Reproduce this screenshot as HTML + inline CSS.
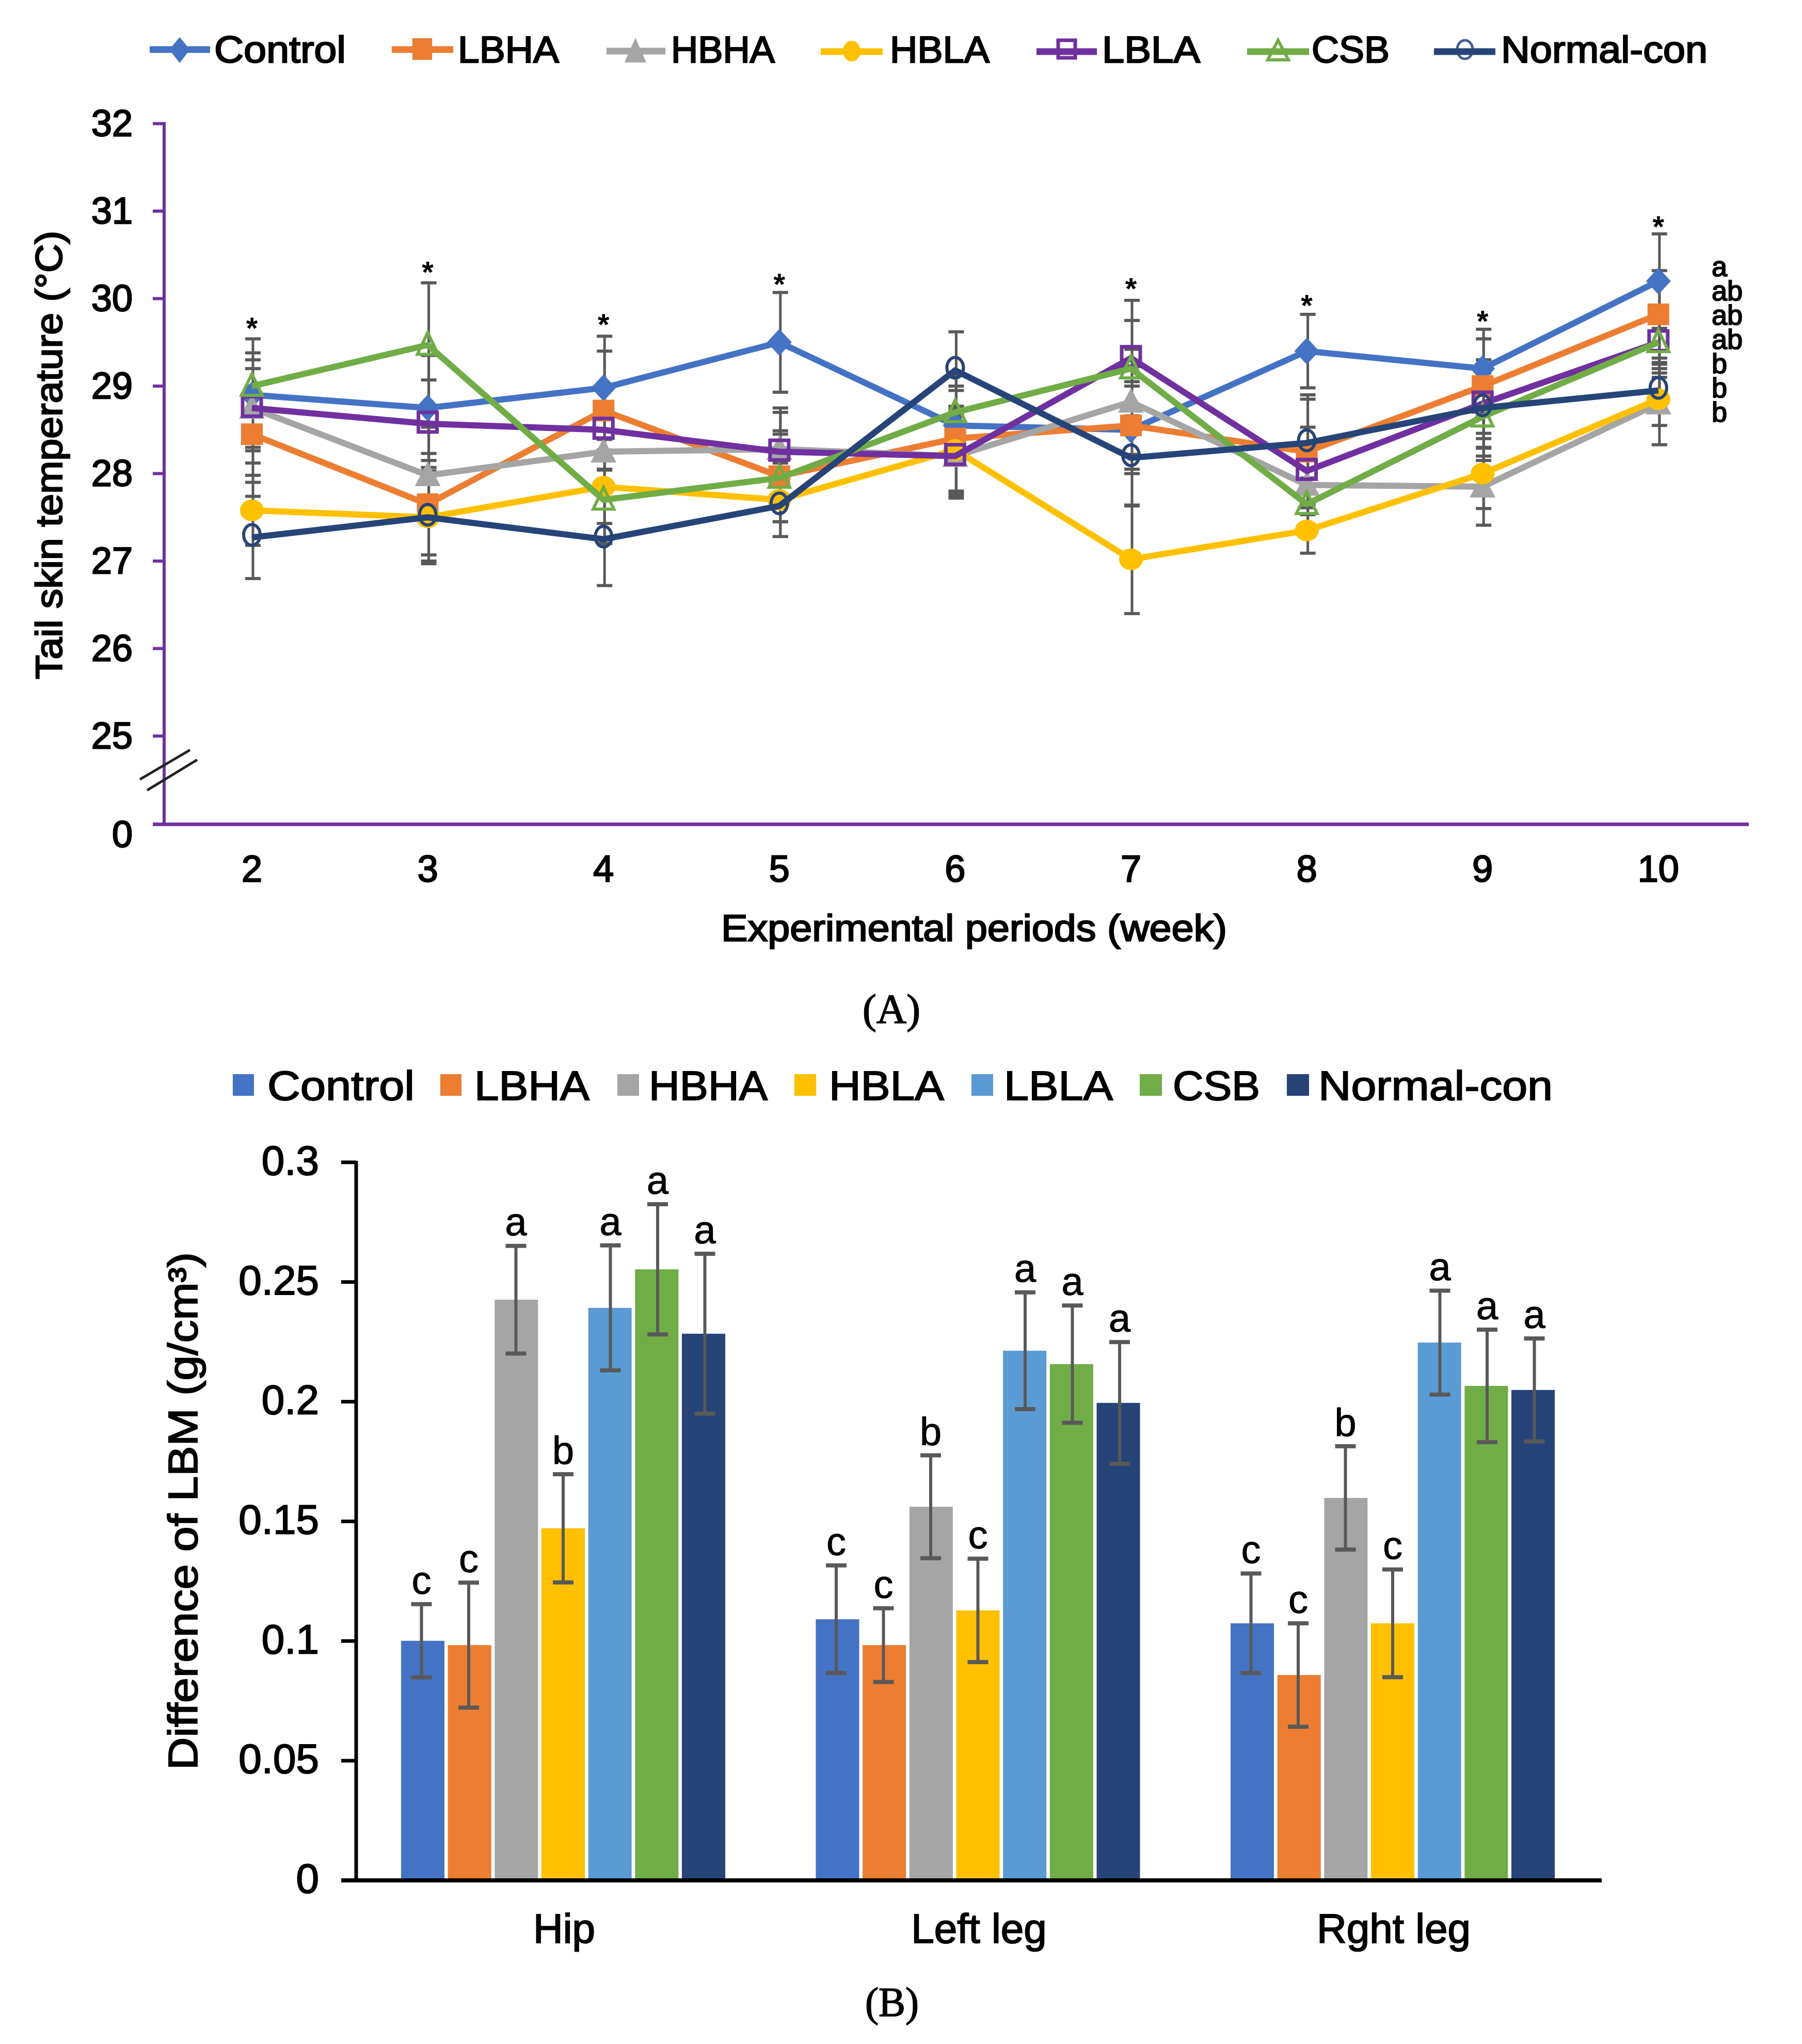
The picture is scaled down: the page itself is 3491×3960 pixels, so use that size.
<!DOCTYPE html>
<html lang="en">
<head>
<meta charset="utf-8">
<title>Tail skin temperature and difference of LBM</title>
<style>
html,body{margin:0;padding:0;background:#fff}
svg{display:block}
text{font-family:"Liberation Sans",Arial,sans-serif;fill:#000}
.a{font-size:72px;stroke:#000;stroke-width:2.4px}
.b{font-size:80px;stroke:#000;stroke-width:2px}
.cap{font-family:"Liberation Serif",serif;font-size:80px;stroke:#000;stroke-width:1.6px}
</style>
</head>
<body>
<svg id="figure" xmlns="http://www.w3.org/2000/svg" width="3491" height="3960" viewBox="0 0 3491 3960">
<rect x="0" y="0" width="3491" height="3960" fill="#fff"/>

<g id="chartA"></g>
<g id="chartB"></g>

<g>
  <g>
    <path d="M290 96H407" stroke="#4472C4" stroke-width="13"/><path d="M348 72L368 96L348 122L328 96Z" fill="#4472C4"/>
    <text class="a" x="415" y="121" textLength="255" lengthAdjust="spacingAndGlyphs" font-size="76">Control</text>
  </g>
  <g>
    <path d="M759 96H878" stroke="#ED7D31" stroke-width="13"/><rect x="799" y="74" width="38" height="42" fill="#ED7D31"/>
    <text class="a" x="887" y="121" textLength="196" lengthAdjust="spacingAndGlyphs">LBHA</text>
  </g>
  <g>
    <path d="M1175 99H1289" stroke="#A5A5A5" stroke-width="13"/><path d="M1231 73L1252 121H1210Z" fill="#A5A5A5"/>
    <text class="a" x="1300" y="121" textLength="201" lengthAdjust="spacingAndGlyphs">HBHA</text>
  </g>
  <g>
    <path d="M1590 100H1710" stroke="#FFC000" stroke-width="13"/><ellipse cx="1650" cy="99" rx="17" ry="20" fill="#FFC000"/>
    <text class="a" x="1724" y="121" textLength="193" lengthAdjust="spacingAndGlyphs">HBLA</text>
  </g>
  <g>
    <path d="M2008 100H2125" stroke="#7030A0" stroke-width="13"/><rect x="2050" y="78" width="33" height="34" fill="#fff" stroke="#7030A0" stroke-width="7"/>
    <path d="M2008 100H2125" stroke="#7030A0" stroke-width="13"/>
    <text class="a" x="2135" y="121" textLength="190" lengthAdjust="spacingAndGlyphs">LBLA</text>
  </g>
  <g>
    <path d="M2476 78L2496 116H2456Z" fill="#fff" stroke="#70AD47" stroke-width="6"/>
    <path d="M2416 100H2536" stroke="#70AD47" stroke-width="13"/>
    <text class="a" x="2541" y="121" textLength="151" lengthAdjust="spacingAndGlyphs">CSB</text>
  </g>
  <g>
    <ellipse cx="2838" cy="96" rx="15" ry="18" fill="#fff" stroke="#44608f" stroke-width="5"/>
    <path d="M2778 100H2897" stroke="#264478" stroke-width="13"/>
    <text class="a" x="2908" y="121" textLength="400" lengthAdjust="spacingAndGlyphs">Normal-con</text>
  </g>
</g>

<text class="a" transform="translate(120,1316) rotate(-90)" x="0" y="0" textLength="869" lengthAdjust="spacingAndGlyphs" font-size="68">Tail skin temperature (°C)</text>
<text class="a" x="1397" y="1823" textLength="980" lengthAdjust="spacingAndGlyphs">Experimental periods (week)</text>

<g stroke="#222" stroke-width="5">
  <line x1="271" y1="1510" x2="368" y2="1453"/>
  <line x1="285" y1="1531" x2="382" y2="1472"/>
</g>

<text class="cap" x="1671" y="1982" textLength="112" lengthAdjust="spacingAndGlyphs">(A)</text>

<g>
  <g><rect x="451" y="2081" width="41" height="42" fill="#4472C4"/><text class="b" x="518" y="2131" textLength="285" lengthAdjust="spacingAndGlyphs">Control</text></g>
  <g><rect x="853" y="2081" width="41" height="42" fill="#ED7D31"/><text class="b" x="919" y="2131" textLength="223" lengthAdjust="spacingAndGlyphs">LBHA</text></g>
  <g><rect x="1196" y="2081" width="42" height="42" fill="#A5A5A5"/><text class="b" x="1257" y="2131" textLength="230" lengthAdjust="spacingAndGlyphs">HBHA</text></g>
  <g><rect x="1539" y="2081" width="42" height="42" fill="#FFC000"/><text class="b" x="1606" y="2131" textLength="223" lengthAdjust="spacingAndGlyphs">HBLA</text></g>
  <g><rect x="1882" y="2081" width="42" height="42" fill="#5B9BD5"/><text class="b" x="1945" y="2131" textLength="211" lengthAdjust="spacingAndGlyphs">LBLA</text></g>
  <g><rect x="2208" y="2081" width="43" height="42" fill="#70AD47"/><text class="b" x="2272" y="2131" textLength="169" lengthAdjust="spacingAndGlyphs">CSB</text></g>
  <g><rect x="2493" y="2081" width="43" height="42" fill="#264478"/><text class="b" x="2554" y="2131" textLength="454" lengthAdjust="spacingAndGlyphs">Normal-con</text></g>
</g>

<text class="b" transform="translate(382,3429) rotate(-90)" x="0" y="0" textLength="1003" lengthAdjust="spacingAndGlyphs" font-size="76">Difference of LBM (g/cm³)</text>
<text class="cap" x="1676" y="3906" textLength="104" lengthAdjust="spacingAndGlyphs">(B)</text>

<script>
/* ---------- Chart A data ---------- */
var weeks = [2, 3, 4, 5, 6, 7, 8, 9, 10];
var tempYTicks = [0, 25, 26, 27, 28, 29, 30, 31, 32];

var tempControl = [28.9, 28.75, 28.98, 29.5, 28.55, 28.5, 29.4, 29.2, 30.2];
var tempLBHA    = [28.45, 27.65, 28.72, 27.97, 28.4, 28.55, 28.25, 29.0, 29.82];
var tempHBHA    = [28.75, 27.98, 28.25, 28.28, 28.2, 28.82, 27.87, 27.85, 28.8];
var tempHBLA    = [27.58, 27.5, 27.85, 27.7, 28.27, 27.02, 27.35, 28.0, 28.85];
var tempLBLA    = [28.75, 28.57, 28.5, 28.25, 28.2, 29.32, 28.03, 28.8, 29.5];
var tempCSB     = [29.0, 29.47, 27.7, 27.95, 28.7, 29.2, 27.65, 28.65, 29.5];
var tempNormal  = [27.27, 27.5, 27.25, 27.63, 29.18, 28.18, 28.35, 28.75, 28.95];

var errControl = [0.64, 0.6, 0.59, 0.57, 0.4, 0.5, 0.42, 0.45, 0.54];
var errLBHA    = [0.55, 0.58, 0.68, 0.52, 0.6, 0.5, 0.6, 0.54, 0.5];
var errHBHA    = [0.63, 0.55, 0.45, 0.42, 0.45, 0.6, 0.45, 0.44, 0.47];
var errHBLA    = [0.4, 0.5, 0.42, 0.42, 0.5, 0.62, 0.26, 0.4, 0.3];
var errLBLA    = [0.45, 0.5, 0.45, 0.5, 0.48, 0.66, 0.5, 0.5, 0.25];
var errCSB     = [0.3, 0.71, 0.5, 0.5, 0.42, 0.55, 0.3, 0.5, 0.4];
var errNormal  = [0.47, 0.53, 0.53, 0.35, 0.44, 0.55, 0.55, 0.55, 0.25];

/* value at which the significance star is printed, per week (none at week 6) */
var starLevels = [29.62, 30.26, 29.66, 30.12, null, 30.07, 29.88, 29.7, 30.78];
var endLetters = ['a', 'ab', 'ab', 'ab', 'b', 'b', 'b'];

/* ---------- Chart B data ---------- */
var regions = ['Hip', 'Left leg', 'Rght leg'];
var lbmYTicks = ['0', '0.05', '0.1', '0.15', '0.2', '0.25', '0.3'];

var lbmControl = [0.1001, 0.1091, 0.1074];
var lbmLBHA    = [0.0983, 0.0983, 0.0858];
var lbmHBHA    = [0.2426, 0.1561, 0.1598];
var lbmHBLA    = [0.1471, 0.1128, 0.1074];
var lbmLBLA    = [0.2392, 0.2213, 0.2247];
var lbmCSB     = [0.2553, 0.2157, 0.2066];
var lbmNormal  = [0.2284, 0.1995, 0.2049];

var lbmErrControl = [0.0153, 0.0225, 0.0208];
var lbmErrLBHA    = [0.0261, 0.0154, 0.0216];
var lbmErrHBHA    = [0.0225, 0.0215, 0.0216];
var lbmErrHBLA    = [0.0226, 0.0216, 0.0225];
var lbmErrLBLA    = [0.0261, 0.0244, 0.0217];
var lbmErrCSB     = [0.0272, 0.0245, 0.0235];
var lbmErrNormal  = [0.0334, 0.0254, 0.0215];

var lettersControl = ['c', 'c', 'c'];
var lettersLBHA    = ['c', 'c', 'c'];
var lettersHBHA    = ['a', 'b', 'b'];
var lettersHBLA    = ['b', 'c', 'c'];
var lettersLBLA    = ['a', 'a', 'a'];
var lettersCSB     = ['a', 'a', 'a'];
var lettersNormal  = ['a', 'a', 'a'];

var NS = 'http://www.w3.org/2000/svg';
function make(parent, tag, name, attrs, txt) {
  var el = document.createElementNS(NS, tag);
  
  
  for (var k in attrs) { el.setAttribute(k, attrs[k]); }
  if (txt !== undefined) { el.textContent = txt; }
  parent.appendChild(el);
  return el;
}

/* ---------- Chart A ---------- */
(function () {
  var root = document.getElementById('chartA');
  var purple = '#7030A0';
  function xA(w) { return 488 + (w - 2) * 340.6; }
  function yA(v) { return v === 0 ? 1597 : 1426 - (v - 25) * 169.5; }

  tempYTicks.forEach(function (t) {
    make(root, 'line', 'y-tick-' + t, { x1: 296, x2: 318, y1: yA(t), y2: yA(t), stroke: purple, 'stroke-width': 6 });
    make(root, 'text', 'y-tick-label-' + t, { 'class': 'a', x: 257, y: t === 0 ? 1641 : yA(t) + 24, 'text-anchor': 'end' }, String(t));
  });
  make(root, 'line', 'y-axis', { x1: 318, x2: 318, y1: yA(32) - 3, y2: yA(0) + 3, stroke: purple, 'stroke-width': 6 });
  make(root, 'line', 'x-axis', { x1: 296, x2: 3388, y1: yA(0), y2: yA(0), stroke: purple, 'stroke-width': 7 });

  weeks.forEach(function (w) {
    make(root, 'text', 'x-tick-label-week-' + w, { 'class': 'a', x: xA(w), y: 1708, 'text-anchor': 'middle' }, String(w));
  });

  var series = [
    { key: 'control', vals: tempControl, errs: errControl, color: '#4472C4', mark: 'diamond' },
    { key: 'lbha', vals: tempLBHA, errs: errLBHA, color: '#ED7D31', mark: 'square' },
    { key: 'hbha', vals: tempHBHA, errs: errHBHA, color: '#A5A5A5', mark: 'triangle' },
    { key: 'hbla', vals: tempHBLA, errs: errHBLA, color: '#FFC000', mark: 'circle' },
    { key: 'lbla', vals: tempLBLA, errs: errLBLA, color: '#7030A0', mark: 'hollow-square' },
    { key: 'csb', vals: tempCSB, errs: errCSB, color: '#70AD47', mark: 'hollow-triangle' },
    { key: 'normal-con', vals: tempNormal, errs: errNormal, color: '#264478', mark: 'hollow-circle' }
  ];

  series.forEach(function (s) {
    s.vals.forEach(function (v, i) {
      var x = xA(weeks[i]) + 2, hi = yA(v + s.errs[i]), lo = yA(v - s.errs[i]);
      var g = make(root, 'g', 'error-bar-' + s.key + '-week-' + weeks[i], { stroke: '#595959' });
      make(g, 'line', 'error-stem', { x1: x, x2: x, y1: hi, y2: lo, 'stroke-width': 5 });
      make(g, 'line', 'error-cap-top', { x1: x - 15, x2: x + 15, y1: hi, y2: hi, 'stroke-width': 6 });
      make(g, 'line', 'error-cap-bottom', { x1: x - 15, x2: x + 15, y1: lo, y2: lo, 'stroke-width': 6 });
    });
  });

  series.forEach(function (s) {
    var pts = s.vals.map(function (v, i) { return xA(weeks[i]) + ',' + yA(v); }).join(' ');
    make(root, 'polyline', 'line-' + s.key, { points: pts, fill: 'none', stroke: s.color, 'stroke-width': 12, 'stroke-linejoin': 'round' });
    s.vals.forEach(function (v, i) {
      var x = xA(weeks[i]), y = yA(v), nm = 'point-' + s.key + '-week-' + weeks[i];
      if (s.mark === 'diamond') {
        make(root, 'path', nm, { d: 'M' + x + ' ' + (y - 26) + 'L' + (x + 24) + ' ' + y + 'L' + x + ' ' + (y + 26) + 'L' + (x - 24) + ' ' + y + 'Z', fill: s.color });
      } else if (s.mark === 'square') {
        make(root, 'rect', nm, { x: x - 21, y: y - 21, width: 42, height: 42, fill: s.color });
      } else if (s.mark === 'triangle') {
        make(root, 'path', nm, { d: 'M' + x + ' ' + (y - 27) + 'L' + (x + 25) + ' ' + (y + 21) + 'L' + (x - 25) + ' ' + (y + 21) + 'Z', fill: s.color });
      } else if (s.mark === 'circle') {
        make(root, 'ellipse', nm, { cx: x, cy: y, rx: 23, ry: 21, fill: s.color });
      } else if (s.mark === 'hollow-square') {
        make(root, 'rect', nm, { x: x - 18, y: y - 22, width: 36, height: 38, fill: 'none', stroke: s.color, 'stroke-width': 7 });
      } else if (s.mark === 'hollow-triangle') {
        make(root, 'path', nm, { d: 'M' + x + ' ' + (y - 24) + 'L' + (x + 20) + ' ' + (y + 18) + 'L' + (x - 20) + ' ' + (y + 18) + 'Z', fill: 'none', stroke: s.color, 'stroke-width': 6 });
      } else {
        make(root, 'ellipse', nm, { cx: x, cy: y - 5, rx: 16, ry: 20, fill: 'none', stroke: s.color, 'stroke-width': 6 });
      }
    });
  });

  starLevels.forEach(function (lv, i) {
    if (lv === null) { return; }
    make(root, 'text', 'significance-star-week-' + weeks[i], { x: xA(weeks[i]), y: yA(lv) + 13, 'text-anchor': 'middle', 'font-size': 58, 'font-weight': 'bold' }, '*');
  });

  endLetters.forEach(function (l, i) {
    make(root, 'text', 'end-letter-' + (i + 1), { x: 3316, y: 535 + i * 47, 'font-size': 54, stroke: '#000', 'stroke-width': 2 }, l);
  });
})();

/* ---------- Chart B ---------- */
(function () {
  var root = document.getElementById('chartB');
  function yB(v) { return 3643 - v * 4637; }
  function groupCentre(g) { return 1091 + g * 803.5; }

  lbmYTicks.forEach(function (t) {
    var v = parseFloat(t);
    make(root, 'line', 'lbm-y-tick-' + t, { x1: 661, x2: 690, y1: yB(v), y2: yB(v), stroke: '#000', 'stroke-width': 7 });
    make(root, 'text', 'lbm-y-tick-label-' + t, { 'class': 'b', x: 618, y: yB(v) + 24, 'text-anchor': 'end' }, t);
  });

  var series = [
    { key: 'control', vals: lbmControl, errs: lbmErrControl, letters: lettersControl, color: '#4472C4' },
    { key: 'lbha', vals: lbmLBHA, errs: lbmErrLBHA, letters: lettersLBHA, color: '#ED7D31' },
    { key: 'hbha', vals: lbmHBHA, errs: lbmErrHBHA, letters: lettersHBHA, color: '#A5A5A5' },
    { key: 'hbla', vals: lbmHBLA, errs: lbmErrHBLA, letters: lettersHBLA, color: '#FFC000' },
    { key: 'lbla', vals: lbmLBLA, errs: lbmErrLBLA, letters: lettersLBLA, color: '#5B9BD5' },
    { key: 'csb', vals: lbmCSB, errs: lbmErrCSB, letters: lettersCSB, color: '#70AD47' },
    { key: 'normal-con', vals: lbmNormal, errs: lbmErrNormal, letters: lettersNormal, color: '#264478' }
  ];

  series.forEach(function (s, si) {
    s.vals.forEach(function (v, g) {
      var left = groupCentre(g) - 314 + si * 90.67;
      make(root, 'rect', 'bar-' + s.key + '-' + regions[g].toLowerCase().replace(' ', '-'), { x: left, y: yB(v), width: 84, height: 3640 - yB(v), fill: s.color });
    });
  });

  series.forEach(function (s, si) {
    s.vals.forEach(function (v, g) {
      var x = groupCentre(g) + (si - 3) * 91.5, hi = yB(v + s.errs[g]), lo = yB(v - s.errs[g]);
      var tag = s.key + '-' + regions[g].toLowerCase().replace(' ', '-');
      var e = make(root, 'g', 'error-bar-' + tag, { stroke: '#595959' });
      make(e, 'line', 'error-stem', { x1: x, x2: x, y1: hi, y2: lo, 'stroke-width': 6 });
      make(e, 'line', 'error-cap-top', { x1: x - 20, x2: x + 20, y1: hi, y2: hi, 'stroke-width': 8 });
      make(e, 'line', 'error-cap-bottom', { x1: x - 20, x2: x + 20, y1: lo, y2: lo, 'stroke-width': 8 });
      make(root, 'text', 'significance-letter-' + tag, { x: x, y: hi - 20, 'text-anchor': 'middle', 'font-size': 76, stroke: '#000', 'stroke-width': 1 }, s.letters[g]);
    });
  });

  make(root, 'line', 'lbm-y-axis', { x1: 690, x2: 690, y1: 2249, y2: 3647, stroke: '#000', 'stroke-width': 7 });
  make(root, 'line', 'lbm-x-axis', { x1: 661, x2: 3103, y1: 3643, y2: 3643, stroke: '#000', 'stroke-width': 8 });

  regions.forEach(function (r, g) {
    make(root, 'text', 'lbm-x-label-' + r.toLowerCase().replace(' ', '-'), { 'class': 'b', x: groupCentre(g) + 2, y: 3764, 'text-anchor': 'middle' }, r);
  });
})();
</script>
</svg>
</body>
</html>
